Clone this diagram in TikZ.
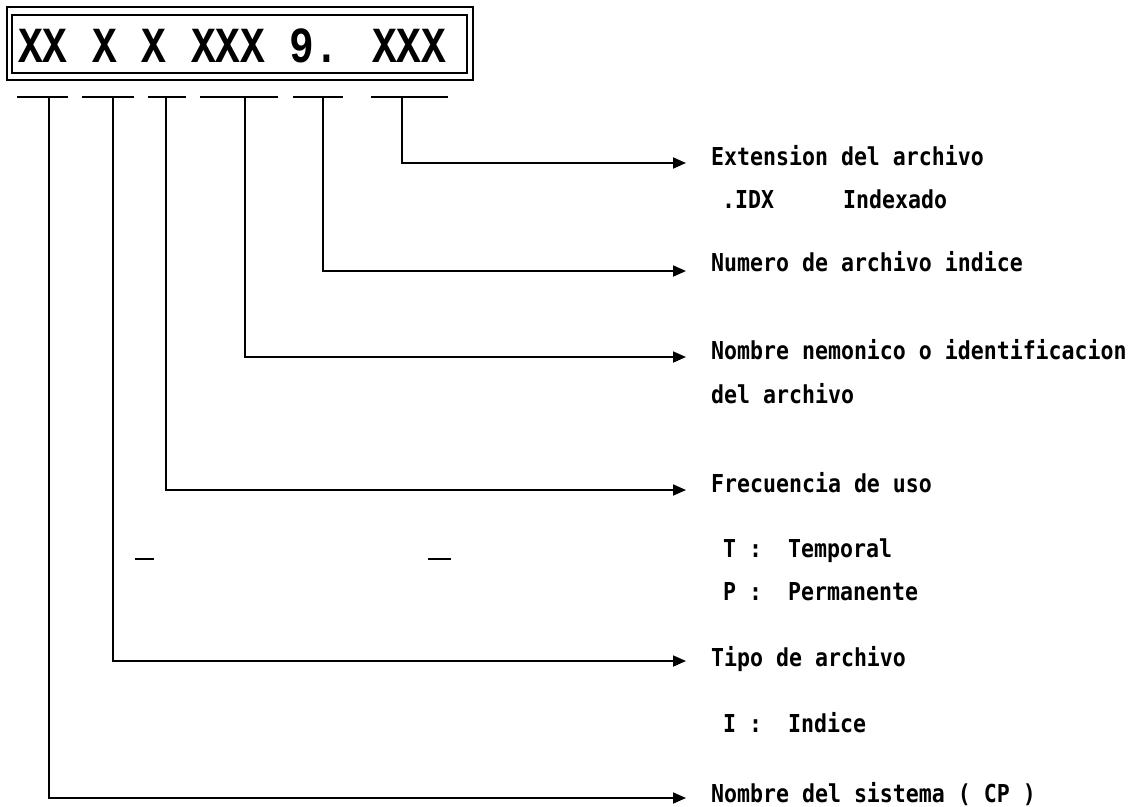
\documentclass[tikz,border=0pt]{standalone}
\usepackage{fontspec}
\usetikzlibrary{arrows.meta}
\newfontfamily\boxfont[FakeStretch=0.815]{Liberation Mono Bold}
\newfontfamily\labfont[FakeStretch=0.873]{DejaVu Sans Mono Bold}
\tikzset{
  ln/.style={line width=2pt},
  conn/.style={line width=1.8pt,-{Triangle[length=13pt,width=11pt]}},
  lab/.style={anchor=base west,inner sep=0pt,font=\labfont\fontsize{24.7}{30}\selectfont},
}
\begin{document}
\begin{tikzpicture}[x=1pt,y=-1pt]
\useasboundingbox (0,0) rectangle (1147,806);
% code box
\draw[ln] (7,7) rectangle (473,80);
\draw[ln] (12,15) rectangle (467,73);
\node[anchor=base west,inner sep=0pt,font=\boxfont\fontsize{50.5}{56}\selectfont] (code) at (18,62) {XX X X XXX 9. XXX};
% underline segments
\draw[ln] (17,97) -- (68,97);
\draw[ln] (82,97) -- (134,97);
\draw[ln] (148,97) -- (186,97);
\draw[ln] (200,97) -- (278,97);
\draw[ln] (293,97) -- (343,97);
\draw[ln] (371,97) -- (448,97);
% start points
\coordinate (s1) at (49,97);
\coordinate (s2) at (113,97);
\coordinate (s3) at (166,97);
\coordinate (s4) at (245,97);
\coordinate (s5) at (323,97);
\coordinate (s6) at (402,97);
% arrow tips
\coordinate (t1) at (686,798);
\coordinate (t2) at (686,661);
\coordinate (t3) at (686,490);
\coordinate (t4) at (686,357);
\coordinate (t5) at (686,271);
\coordinate (t6) at (686,163);
% labels
\node[lab] (l6) at (711,165) {Extension del archivo};
\node[lab] (l6b) at (722,208) {.IDX};
\node[lab] (l6c) at (843,208) {Indexado};
\node[lab] (l5) at (711,271) {Numero de archivo indice};
\node[lab] (l4) at (711,359) {Nombre nemonico o identificacion};
\node[lab] (l4b) at (711,403) {del archivo};
\node[lab] (l3) at (711,492) {Frecuencia de uso};
\node[lab] (l3a) at (723,557) {T};
\node[lab] (l3b) at (749,557) {:};
\node[lab] (l3c) at (788,557) {Temporal};
\node[lab] (l3d) at (723,600) {P};
\node[lab] (l3e) at (749,600) {:};
\node[lab] (l3f) at (788,600) {Permanente};
\node[lab] (l2) at (711,666) {Tipo de archivo};
\node[lab] (l2a) at (723,732) {I};
\node[lab] (l2b) at (749,732) {:};
\node[lab] (l2c) at (788,732) {Indice};
\node[lab] (l1) at (711,802) {Nombre del sistema ( CP )};
% connectors
\draw[conn] (s1) |- (t1);
\draw[conn] (s2) |- (t2);
\draw[conn] (s3) |- (t3);
\draw[conn] (s4) |- (t4);
\draw[conn] (s5) |- (t5);
\draw[conn] (s6) |- (t6);
% small marks
\draw[line width=2pt] (135,559) -- (154,559);
\draw[line width=1.5pt] (428,559) -- (451,559);
\end{tikzpicture}
\end{document}
